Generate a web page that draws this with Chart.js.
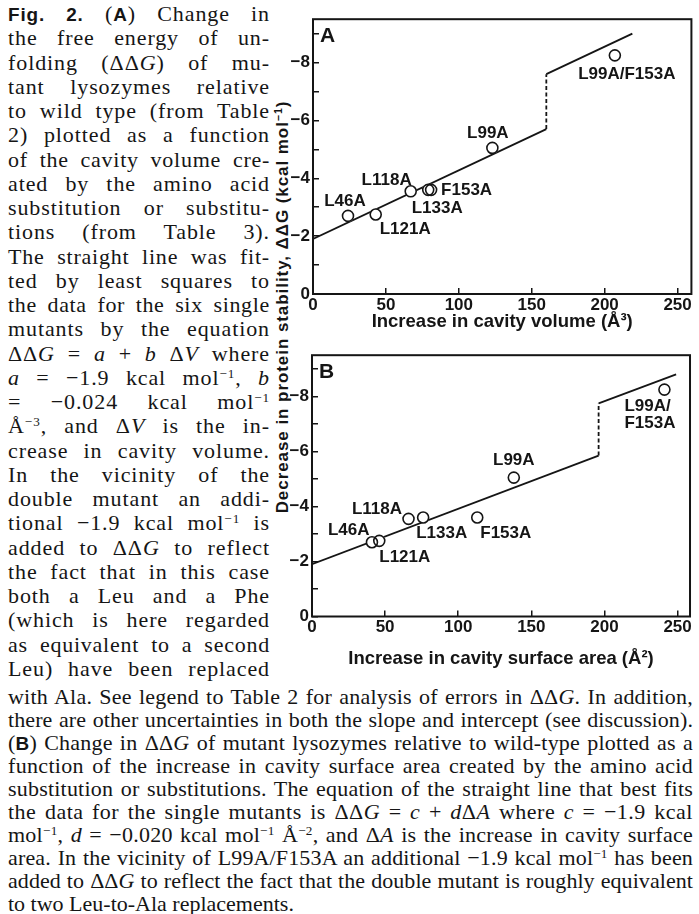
<!DOCTYPE html>
<html>
<head>
<meta charset="utf-8">
<title>Fig. 2</title>
<script src="https://cdn.jsdelivr.net/npm/chart.js@4.4.1/dist/chart.umd.min.js"></script>
<style>
  html, body { margin: 0; padding: 0; background: #fff; }
  body { position: relative; width: 699px; height: 914px; overflow: hidden; color: #151515; }
  .ln { position: absolute; left: 8px; height: 24px; line-height: 24px; white-space: nowrap;
        font-family: "Liberation Serif", serif; font-size: 22px; }
  .sf { font-family: "Liberation Sans", sans-serif; font-weight: bold; font-size: 0.86em; }
  sup { font-size: 0.6em; line-height: 0; vertical-align: 0.55em; }
  canvas { position: absolute; }
  #ytitle { position: absolute; left: 283px; top: 307px; width: max-content; white-space: nowrap;
            line-height: 20px; font: bold 17px "Liberation Sans", sans-serif;
            transform: translate(-50%, -50%) rotate(-90deg); }
  #ytitle sup { font-size: 0.62em; }
</style>
</head>
<body>
<div id="caption">
<div class="ln"><b class="sf">Fig. 2.</b> (<b class="sf">A</b>) Change in</div>
<div class="ln">the free energy of un-</div>
<div class="ln">folding (ΔΔ<i>G</i>) of mu-</div>
<div class="ln">tant lysozymes relative</div>
<div class="ln">to wild type (from Table</div>
<div class="ln">2) plotted as a function</div>
<div class="ln">of the cavity volume cre-</div>
<div class="ln">ated by the amino acid</div>
<div class="ln">substitution or substitu-</div>
<div class="ln">tions (from Table 3).</div>
<div class="ln">The straight line was fit-</div>
<div class="ln">ted by least squares to</div>
<div class="ln">the data for the six single</div>
<div class="ln">mutants by the equation</div>
<div class="ln">ΔΔ<i>G</i> = <i>a</i> + <i>b</i> Δ<i>V</i> where</div>
<div class="ln"><i>a</i> = −1.9 kcal mol<sup>−1</sup>, <i>b</i></div>
<div class="ln">= −0.024 kcal mol<sup>−1</sup></div>
<div class="ln">Å<sup>−3</sup>, and Δ<i>V</i> is the in-</div>
<div class="ln">crease in cavity volume.</div>
<div class="ln">In the vicinity of the</div>
<div class="ln">double mutant an addi-</div>
<div class="ln">tional −1.9 kcal mol<sup>−1</sup> is</div>
<div class="ln">added to ΔΔ<i>G</i> to reflect</div>
<div class="ln">the fact that in this case</div>
<div class="ln">both a Leu and a Phe</div>
<div class="ln">(which is here regarded</div>
<div class="ln">as equivalent to a second</div>
<div class="ln">Leu) have been replaced</div>
<div class="ln">with Ala. See legend to Table 2 for analysis of errors in ΔΔ<i>G</i>. In addition,</div>
<div class="ln">there are other uncertainties in both the slope and intercept (see discussion).</div>
<div class="ln">(<b class="sf">B</b>) Change in ΔΔ<i>G</i> of mutant lysozymes relative to wild-type plotted as a</div>
<div class="ln">function of the increase in cavity surface area created by the amino acid</div>
<div class="ln">substitution or substitutions. The equation of the straight line that best fits</div>
<div class="ln">the data for the single mutants is ΔΔ<i>G</i> = <i>c</i> + <i>d</i>Δ<i>A</i> where <i>c</i> = −1.9 kcal</div>
<div class="ln">mol<sup>−1</sup>, <i>d</i> = −0.020 kcal mol<sup>−1</sup> Å<sup>−2</sup>, and Δ<i>A</i> is the increase in cavity surface</div>
<div class="ln">area. In the vicinity of L99A/F153A an additional −1.9 kcal mol<sup>−1</sup> has been</div>
<div class="ln">added to ΔΔ<i>G</i> to reflect the fact that the double mutant is roughly equivalent</div>
<div class="ln">to two Leu-to-Ala replacements.</div>
</div>
<div id="ytitle">Decrease in protein stability, ΔΔG (kcal mol<sup>−1</sup>)</div>
<canvas id="chartA" width="411" height="336" style="left:288px;top:0"></canvas>
<canvas id="chartB" width="411" height="340" style="left:288px;top:336px"></canvas>
<script>
// mutants, in the same order in every array
var mutants = ['L46A', 'L121A', 'L118A', 'L133A', 'F153A', 'L99A', 'L99A/F153A'];
var mutantLabelsB = ['L46A', 'L121A', 'L118A', 'L133A', 'F153A', 'L99A', 'L99A/\nF153A'];
var ddG = [-2.7, -2.75, -3.55, -3.6, -3.6, -5.05, -8.25];
var cavityVolume = [24, 43, 67, 79, 81, 123, 207];
var cavityArea = [41, 46, 66, 76, 113, 138, 241];

// fitted lines: singles branch, jump (dashed), double-mutant branch
var fitVolumeX = [0, 160, 160, 219];
var fitVolumeY = [-1.9, -5.7, -7.6, -9.0];
var fitAreaX = [0, 196, 196, 249];
var fitAreaY = [-1.9, -5.85, -7.75, -8.8];

var xTicks = [0, 50, 100, 150, 200, 250];
var yTicks = [0, -1, -2, -3, -4, -5, -6, -7, -8, -9];
var yTickLabels = [0, -2, -4, -6, -8];

var ink = '#151515';
Chart.defaults.font.family = '"Liberation Sans", Arial, sans-serif';
Chart.defaults.color = ink;

// fit the caption lines to the column widths
var lines = document.querySelectorAll('.ln');
lines.forEach(function (el, i) {
  var top = i < 28 ? 14 + i * 24.25 : 697 + (i - 28) * 23;
  el.style.top = (top - 12) + 'px';
  var target = i < 28 ? 262 : 685;
  var natural = el.getBoundingClientRect().width;
  var chars = el.textContent.length;
  var gaps = (el.textContent.match(/ /g) || []).length;
  if (natural > target) {
    el.style.letterSpacing = ((target - natural) / chars) + 'px';
  } else if (i !== lines.length - 1 && gaps) {
    var ls = Math.min((target - natural) * 0.45 / chars, 0.9);
    el.style.letterSpacing = ls + 'px';
    var now = el.getBoundingClientRect().width;
    el.style.wordSpacing = ((target - now) / gaps) + 'px';
  }
});

// the shared y title runs about 413 px in the reference
var yt = document.getElementById('ytitle');
yt.style.letterSpacing = ((413 - yt.offsetWidth) / yt.textContent.length) + 'px';

function panel(id, o) {
  var pts = o.xs.map(function (x, i) { return {x: x, y: ddG[i]}; });
  var fit = o.fitX.map(function (x, i) { return {x: x, y: o.fitY[i]}; });

  var extras = {
    id: 'extras',
    afterDatasetsDraw: function (chart) {
      var ctx = chart.ctx, a = chart.chartArea;
      var sx = chart.scales.x, sy = chart.scales.y;
      ctx.save();
      ctx.fillStyle = ink;
      ctx.textBaseline = 'middle';
      ctx.font = 'bold 17px "Liberation Sans"';
      o.names.forEach(function (name, i) {
        var off = o.offsets[i];
        var px = sx.getPixelForValue(o.xs[i]) + off[0];
        var py = sy.getPixelForValue(ddG[i]) + off[1];
        ctx.textAlign = off[2];
        name.split('\n').forEach(function (t, k) { ctx.fillText(t, px, py + k * 17); });
      });
      ctx.font = 'bold 21px "Liberation Sans"';
      ctx.textAlign = 'left';
      ctx.fillText(o.letter, a.left + 7, a.top + 17);
      ctx.lineWidth = 2;
      ctx.strokeStyle = ink;
      ctx.strokeRect(a.left, a.top, a.right - a.left, a.bottom - a.top);
      ctx.restore();
    }
  };

  return new Chart(document.getElementById(id), {
    type: 'scatter',
    data: {
      datasets: [
        {data: fit, showLine: true, borderColor: ink, borderWidth: 1.8, pointRadius: 0, order: 3,
         segment: {borderDash: function (c) { return c.p0DataIndex === 1 ? [4, 2.5] : undefined; }}},
        {data: pts, pointRadius: 6, pointBackgroundColor: '#fff', pointBorderColor: '#fff',
         pointBorderWidth: 0, order: 2},
        {data: pts, pointRadius: 5.5, pointBackgroundColor: 'rgba(0,0,0,0)', pointBorderColor: ink,
         pointBorderWidth: 1.6, order: 1}
      ]
    },
    options: {
      responsive: false,
      animation: false,
      events: [],
      layout: {padding: o.padding},
      plugins: {legend: {display: false}, tooltip: {enabled: false}},
      scales: {
        x: {
          type: 'linear', min: 0, max: o.xMax,
          afterBuildTicks: function (s) { s.ticks = xTicks.map(function (v) { return {value: v}; }); },
          afterFit: function (s) { s.height = o.xAxisHeight; },
          border: {display: false},
          grid: {drawOnChartArea: false, tickLength: -6, color: ink, lineWidth: 1.5},
          ticks: {padding: 7, autoSkip: false, maxRotation: 0, font: {size: 17, weight: 'bold'},
                  callback: function (v) { return String(v); }},
          title: {display: true, text: o.xTitle, font: {size: 18.5, weight: 'bold'},
                  padding: {top: 0, bottom: o.titlePad}}
        },
        y: {
          type: 'linear', min: -9.5, max: 0, reverse: true,
          afterBuildTicks: function (s) { s.ticks = yTicks.map(function (v) { return {value: v}; }); },
          afterFit: function (s) { s.width = o.yAxisWidth; },
          border: {display: false},
          grid: {drawOnChartArea: false, tickLength: -6, color: ink, lineWidth: 1.5},
          ticks: {padding: 9, autoSkip: false, font: {size: 17, weight: 'bold'},
                  callback: function (v) {
                    if (yTickLabels.indexOf(v) < 0) return '';
                    return v < 0 ? '\u2212' + (-v) : '0';
                  }}
        }
      }
    },
    plugins: [extras]
  });
}

panel('chartA', {
  xs: cavityVolume, fitX: fitVolumeX, fitY: fitVolumeY, names: mutants, letter: 'A',
  xTitle: 'Increase in cavity volume (Å³)', xMax: 259.5,
  padding: {left: 0, top: 14, right: 6, bottom: 0}, yAxisWidth: 25, xAxisHeight: 42, titlePad: 3,
  offsets: [[-3, -14.5, 'center'], [4, 15, 'left'], [1, -11, 'right'], [9, 18, 'center'],
            [10, 0, 'left'], [-4.5, -15, 'center'], [12, 19, 'center']]
});

panel('chartB', {
  xs: cavityArea, fitX: fitAreaX, fitY: fitAreaY, names: mutantLabelsB, letter: 'B',
  xTitle: 'Increase in cavity surface area (Å²)', xMax: 258.5,
  padding: {left: 0, top: 3, right: 7, bottom: 0}, yAxisWidth: 24, xAxisHeight: 59.5, titlePad: 6,
  offsets: [[-2.5, -12, 'right'], [0, 16, 'left'], [-6.5, -10, 'right'], [-7, 15.5, 'left'],
            [3, 15.5, 'left'], [0, -17, 'center'], [-40, 17, 'left']]
});
</script>
</body>
</html>
